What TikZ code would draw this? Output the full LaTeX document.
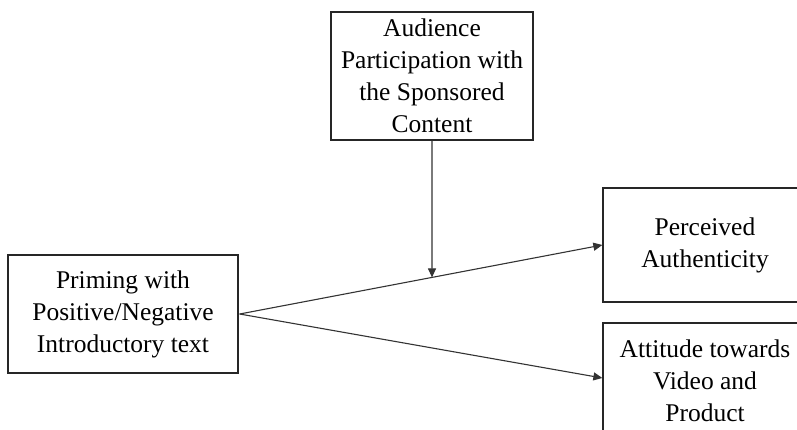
\documentclass[tikz,border=0pt]{standalone}
\usepackage{fontspec}
\setmainfont{Liberation Serif}
\usetikzlibrary{arrows.meta,intersections}
\begin{document}
\begin{tikzpicture}[x=1pt,y=-1pt,
  box/.style={draw=black!85,line width=1.3pt,align=center,inner sep=0pt,
    font=\fontsize{25.5}{32}\selectfont},
  conn/.style={draw=black!80,line width=1.1pt,-{Triangle[length=9pt,width=8pt]}}]
\useasboundingbox (0,0) rectangle (797,429);
\node[box,minimum width=202pt,minimum height=128pt] (T) at (432,76)
  {Audience\\Participation with\\the Sponsored\\Content};
\node[box,minimum width=230pt,minimum height=118pt] (L) at (123,314)
  {Priming with\\Positive/Negative\\Introductory text};
\node[box,minimum width=204pt,minimum height=114pt] (P) at (705,245)
  {Perceived\\Authenticity};
\node[box,minimum width=204pt,minimum height=116pt] (A) at (705,381)
  {Attitude towards\\Video and\\Product};
\coordinate (s) at ([xshift=1pt]L.east);
\path[name path=upper] (s) -- (P.west);
\path[name path=vert] (T.south) -- ++(0,200);
\path[name intersections={of=upper and vert,by=m}];
\draw[conn] (s) -- (P.west);
\draw[conn] (s) -- (A.west |- 0,378);
\draw[conn] (T.south) -- (m);
\end{tikzpicture}
\end{document}
